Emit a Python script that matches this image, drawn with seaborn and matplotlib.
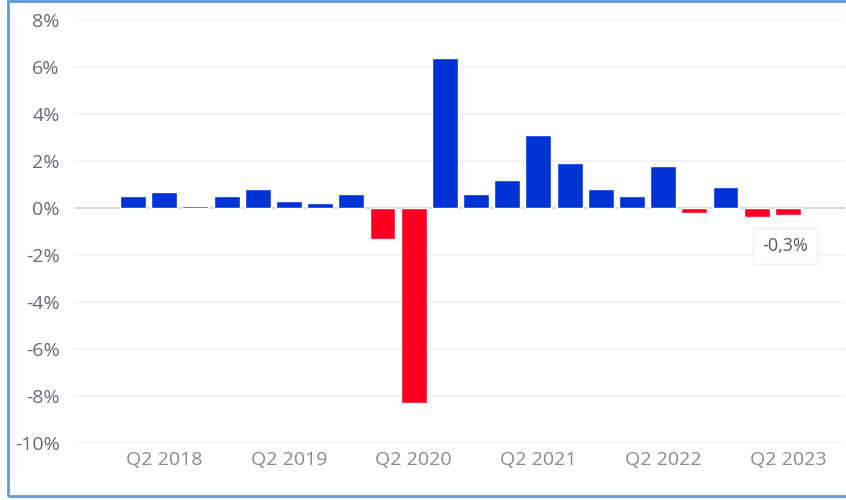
import matplotlib
matplotlib.use("Agg")
import matplotlib.pyplot as plt
import matplotlib.patches as mpatches
import pandas as pd
import seaborn as sns

# quarterly change, Q1 2018 .. Q2 2023
quarters = [f"Q{q} {y}" for y in range(2018, 2024) for q in range(1, 5)][:22]
values = [0.5, 0.7, 0.1, 0.5, 0.8, 0.3, 0.2, 0.6,
          -1.3, -8.3, 6.4, 0.6, 1.2, 3.1, 1.9, 0.8,
          0.5, 1.8, -0.2, 0.9, -0.4, -0.3]
tick_labels = ["Q2 2018", "Q2 2019", "Q2 2020", "Q2 2021", "Q2 2022", "Q2 2023"]
y_ticks = [-10, -8, -6, -4, -2, 0, 2, 4, 6, 8]

df = pd.DataFrame({"quarter": quarters, "value": values})
df["sign"] = ["pos" if v >= 0 else "neg" for v in df["value"]]

sns.set_style("white")
plt.rcParams["font.family"] = ["Open Sans", "DejaVu Sans"]

fig = plt.figure(figsize=(8.46, 5.0), dpi=100)
ax = fig.add_axes([75 / 846, 57 / 500, 770 / 846, 423 / 500])

ax.grid(axis="y", color="#f0f0f0", linewidth=1.2, zorder=0)
ax.axhline(0, color="#d8d8d8", linewidth=1.5, zorder=1)

sns.barplot(data=df, x="quarter", y="value", hue="sign",
            palette={"pos": "#0033d6", "neg": "#ff0022"},
            dodge=False, legend=False, width=0.83, saturation=1, ax=ax,
            zorder=3)

ax.set_xlim(-1.86, 22.83)
ax.set_ylim(-10, 8)
ax.set_yticks(y_ticks)
ax.set_yticklabels([f"{t}%" for t in y_ticks], color="#666a78", fontsize=14)
ax.set_xticks([quarters.index(t) for t in tick_labels])
ax.set_xticklabels(tick_labels, color="#8a8a8a", fontsize=14)
ax.tick_params(axis="x", length=0, pad=6)
ax.tick_params(axis="y", length=0, pad=11)
ax.set_xlabel("")
ax.set_ylabel("")
for s in ax.spines.values():
    s.set_visible(False)
ax.set_axisbelow(True)

# tooltip for the last bar
ax.annotate("-0,3%", xy=(21, values[-1]), xytext=(-2, -22), textcoords="offset points",
            ha="center", va="center", fontsize=13, color="#555a66",
            bbox=dict(boxstyle="square,pad=0.5", fc="white", ec="#eeeeee", lw=1),
            zorder=5)

# frame round the picture
fig.patches.append(mpatches.Rectangle((8 / 846, 4 / 500), 850 / 846, 495 / 500,
                                      transform=fig.transFigure, fill=False,
                                      ec="#5f9bd8", lw=2))

fig.savefig("out.png", dpi=100)
